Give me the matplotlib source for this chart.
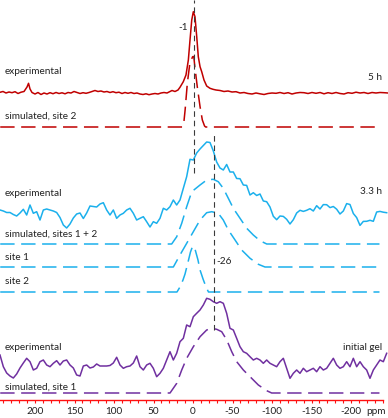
import numpy as np
import matplotlib
matplotlib.use("Agg")
import matplotlib.pyplot as plt
from matplotlib.ticker import MultipleLocator, FixedLocator, FixedFormatter

# ---------------- data (ppm, intensity) ----------------
red_exp_ppm = [244.3, 240.5, 236.7, 232.9, 229.1, 225.3, 221.5, 217.7, 213.9, 210.1, 208.2, 206.3,
               203.8, 200.0, 196.2, 192.4, 188.6, 184.8, 181.0, 177.2, 173.4, 169.6, 165.8, 162.0,
               158.2, 154.4, 150.6, 146.8, 143.0, 139.2, 135.4, 131.6, 127.8, 124.1, 120.3, 116.5,
               112.7, 108.9, 105.1, 101.3, 97.5, 93.7, 89.9, 86.1, 82.3, 78.5, 74.7, 70.9, 67.1,
               63.3, 59.5, 55.7, 51.9, 48.1, 44.3, 40.5, 36.7, 32.9, 29.1, 26.6, 22.8, 19.0, 16.5,
               12.3, 8.9, 5.9, 3.8, 1.6, -0.4, -2.5, -4.7, -6.7, -8.9, -11.0, -13.9, -17.3, -21.5,
               -25.3, -29.1, -34.2, -39.2, -44.3, -49.4, -54.4, -59.5, -64.6, -69.6, -74.7, -79.7,
               -84.8, -89.9, -94.9, -100.0, -105.1, -110.1, -115.2, -120.3, -125.3, -130.4, -135.4,
               -140.5, -145.6, -150.6, -155.7, -160.8, -165.8, -170.9, -175.9, -181.0, -186.1,
               -191.1, -196.2, -201.3, -206.3, -211.4, -216.5, -221.5, -226.6, -231.6, -236.7,
               -241.8, -246.8]
red_exp_int = [0.7, 1.5, 0, 1, 0.3, 1.3, -0.5, 0.8, 1.5, 6, 9.7, 4,
               0.5, -1, 0.5, -1.5, 0, -1, 0.3, -0.7, 0.5, -0.5, 0.2, -0.8,
               0.5, 0, 1.5, 0.5, -0.5, 0.3, -0.3, 0.5, 1.5, 2.5, 1.5, 2,
               1, 1.5, 0.5, 1.3, 0.3, 0.8, -0.5, 0.5, -0.3, 0.5, -0.5, 0, -1,
               -1.5, -0.8, -1.7, -1, -0.5, -1, 0, 0.5, 0, 1.5, 2.5, 1.5, 3, 5.7,
               11.3, 18, 33, 53, 73, 81.3, 76.3, 56.3, 36.3, 26.3, 21.3, 13, 7, 4.7,
               3.7, 3, 2.5, 1.5, 2, 1, 1.3, 0, 0.5, -0.5, -1, 0,
               -0.8, -1.5, -0.5, 0, -0.3, 0.5, -0.5, 0.3, -1, 0, 0.5,
               0.3, -0.5, 0.5, -0.3, 0.5, -0.8, 0.3, -0.5, 0.5, -0.5,
               -1, 0.3, -0.3, 0.8, 0, 0.5, -0.5, 0.5, 0,
               0.5, 0.3, 0]

red_sim_ppm = [244.0, 13.7, 11.8, 10.0, 7.2, 4.0, 0.5, -1.0, -2.3, -5.4, -8.9, -11.8, -14.6, -16.0, -236.0]
red_sim_int = [0, 0, 3, 17, 43.7, 63.7, 70.3, 70.5, 60.3, 40.3, 20.3, 7, 1, 0, 0]

blue_exp_int = [3, 2, 0.5, 0.5, -1.5, -3, 0, 3.7, -2, 8, -0.3, 1.3, -7, 3, 4, 3, 2, 0.5,
                -4.5, -12, -15, -11, -5, -1, 0, -5.5, 0, 7, 6.5, 6, 9, 10.3, 3, -2, 3,
                -5.3, -2, -0.3, 3, 4.7, -0.3, -7, -5.3, -3.7, -8.7, -14, -8.7, -10.3, -5.3,
                4.7, 3, 6.3, 13, 8, 13, 24.7, 36.3, 53.7, 53, 60, 64, 67.5, 71, 70.5, 62,
                51, 45, 43, 48.5, 41, 41, 34.5, 34.3, 28, 27.6, 18, 20.3, 17.5, 19, 12,
                11.3, 6, -3.3, -6.7, -3, -3.4, -6.3, -11, -6.7, 0, 2.7, 1.6, 2.7, 4.3, 2,
                7.3, 4, 8.4, 8.3, 5.4, 6.5, 3.8, -1, 2, 9.4, 8.5, -0.5, -4.6, -12.4, -8.4,
                -8.3, -7.3, -8.3, 1, 1.6, 0.8, 0.3]

blue_sim12_ppm = [244.0, 27.0, 20.6, 14.3, 8.0, 1.6, -8.9, -17.3, -25.7, -32.0, -38.3, -44.7,
                  -51.0, -59.5, -68.0, -76.3, -84.8, -93.3, -236.0]
blue_sim12_int = [0, 0, 7.3, 20.7, 37.3, 52.3, 59, 64, 64.7, 62.3, 55.7, 45.7,
                  35.7, 25.7, 15.7, 9, 3.3, 0, 0]

blue_site1_ppm = [244.0, 24.9, 16.5, 8.0, -0.4, -8.9, -17.3, -23.7, -32.0, -38.3, -44.7, -53.2,
                  -61.6, -72.2, -82.7, -91.1, -236.0]
blue_site1_int = [0, 0, 12, 23.7, 35.3, 47, 54.3, 55.3, 53.7, 47, 37, 27,
                  17, 8.7, 2.7, 0, 0]

blue_site2_ppm = [244.0, 20.3, 16.5, 12.7, 10.1, 6.3, 3.2, 0.4, -2.5, -6.3, -8.9, -12.7, -16.5,
                  -19.6, -236.0]
blue_site2_int = [0, 0, 5, 12, 18, 30, 40, 46, 43, 32, 22, 13, 5, 0, 0]

purple_exp_int = [12, 0.3, -6, -9, -11, -7, -1, 4, 8.7, 5.3, -3, -1.3, 5.3, 7, 2, 0.3, 3.7,
                  6.3, 2, 6, 7, 2, -1, -8, -9, 1, 2, -1, 0, 3, 1, 1, 1, 1.5, 4, 9.7, 2, -1.3,
                  0.3, 1, 4, 11, 0.3, -3, 2, 3.7, -1.3, -9.7, -6.3, -1.3, 7, 15.3, 7, 13.7,
                  25.3, 28.7, 42, 40.3, 50.3, 53.7, 57, 62, 68.7, 67.7, 65.3, 63.7, 65.3,
                  63.7, 53.7, 38.7, 37, 28.7, 20.3, 15.3, 13.7, 10.3, 7, 8.7, 7, 3.7, 7, 3.7,
                  2, 0.3, 5.3, 8.7, -1.3, -11.3, -6.3, -3, -6.3, -1.3, -4.7, -3, -1.3, -4.7,
                  0.3, -3, -1.3, 3.7, 8.7, 2, -1.3, 0.3, 5.3, 0.3, 8.7, 0.3, 5.3, 0.3, -3,
                  -11.3, -3, 2, 7, 5.3, 13.7]

purple_sim_ppm = [244.0, 29.1, 20.6, 14.3, 8.0, -0.4, -8.9, -17.3, -23.7, -30.0, -36.3, -42.7,
                  -49.0, -55.3, -63.7, -72.2, -82.7, -93.3, -99.6, -236.0]
purple_sim_int = [0, 0, 9.7, 23, 34.7, 46.3, 56.3, 63, 64.7, 63.7, 61.3, 53,
                  41.3, 31.3, 23, 16.3, 8, 2.3, 0, 0]

tick_values = [200, 150, 100, 50, 0, -50, -100, -150, -200]
tick_labels = ["200", "150", "100", "50", "0", "-50", "-100", "-150", "-200"]
marker_ppm = [-1, -26]
marker_labels = ["-1", "-26"]

# ---------------- style / layout ----------------
RED = "#C00000"
BLUE = "#1BB0EC"
PURPLE = "#7030A0"
AXRED = "#FF1010"
GRAY = "#3A3A3A"
TXT = "#222222"
FONT = ["Lato", "DejaVu Sans"]
FS = 7.2

grid_ppm = np.linspace(244.3, -245.1, len(blue_exp_int))
purple_ppm = np.linspace(244.3, -245.1, len(purple_exp_int))

fig = plt.figure(figsize=(3.88, 4.18), dpi=100)
ax = fig.add_axes([0, 18 / 418, 1, 400 / 418])
ax.set_xlim(244.3, -246.8)
ax.set_ylim(0, 400)

off = dict(red_exp=307, red_sim=273, blue_exp=187, blue_s12=156, blue_s1=133,
           blue_s2=108, pur_exp=33, pur_sim=7)
dash = (0, (9.4, 4.3))
lw = 1.1

ax.plot(red_exp_ppm, np.array(red_exp_int) + off["red_exp"], color=RED, lw=lw)
ax.plot(red_sim_ppm, np.array(red_sim_int) + off["red_sim"], color=RED, lw=lw, ls=dash)
ax.plot(grid_ppm, np.array(blue_exp_int) + off["blue_exp"], color=BLUE, lw=lw)
ax.plot(blue_sim12_ppm, np.array(blue_sim12_int) + off["blue_s12"], color=BLUE, lw=lw, ls=dash)
ax.plot(blue_site1_ppm, np.array(blue_site1_int) + off["blue_s1"], color=BLUE, lw=lw, ls=dash)
ax.plot(blue_site2_ppm, np.array(blue_site2_int) + off["blue_s2"], color=BLUE, lw=lw, ls=dash)
ax.plot(purple_ppm, np.array(purple_exp_int) + off["pur_exp"], color=PURPLE, lw=lw)
ax.plot(purple_sim_ppm, np.array(purple_sim_int) + off["pur_sim"], color=PURPLE, lw=lw, ls=dash)

# vertical reference lines
ax.vlines(marker_ppm[0], 227, 400, color=GRAY, lw=0.8, ls=(0, (5, 3.5)))
ax.vlines(marker_ppm[1], 70, 267, color=GRAY, lw=0.8, ls=(0, (5, 3.5)))
ax.text(marker_ppm[0] + 7, 373, marker_labels[0], ha="right", va="center",
        fontsize=FS, family=FONT, color=TXT)
ax.text(marker_ppm[1] - 4, 138, marker_labels[1], ha="left", va="center",
        fontsize=FS, family=FONT, color=TXT)

# labels
lx = 238
def lab(x, y, s, ha="left"):
    ax.text(x, y, s, ha=ha, va="center", fontsize=FS, family=FONT, color=TXT)

lab(lx, 328, "experimental")
lab(lx, 284, "simulated, site 2")
lab(-239, 323, "5 h", ha="right")
lab(lx, 206, "experimental")
lab(-239, 208, "3.3 h", ha="right")
lab(lx, 166, "simulated, sites 1 + 2")
lab(lx, 143, "site 1")
lab(lx, 119, "site 2")
lab(lx, 52, "experimental")
lab(-239, 52, "initial gel", ha="right")
lab(lx, 13, "simulated, site 1")

# axis
for s in ["top", "left", "right"]:
    ax.spines[s].set_visible(False)
ax.spines["bottom"].set_color(AXRED)
ax.spines["bottom"].set_linewidth(1.0)
ax.spines["bottom"].set_bounds(244.3, -240.5)
ax.set_yticks([])
ax.xaxis.set_major_locator(FixedLocator(tick_values))
ax.xaxis.set_major_formatter(FixedFormatter(tick_labels))
ax.xaxis.set_minor_locator(FixedLocator([v for v in range(240, -241, -10)]))
ax.tick_params(axis="x", which="both", direction="out", length=2.2, width=0.8,
               color=AXRED, labelsize=FS, labelcolor=TXT, pad=2.5)
for t in ax.get_xticklabels():
    t.set_family(FONT)
ax.annotate("ppm", xy=(-232, 0), xycoords="data", xytext=(0, -8),
            textcoords="offset points", ha="center", va="center",
            fontsize=FS, family=FONT, color=TXT, annotation_clip=False)
ax.patch.set_alpha(0)

fig.savefig("out.png", dpi=100, facecolor="white")
